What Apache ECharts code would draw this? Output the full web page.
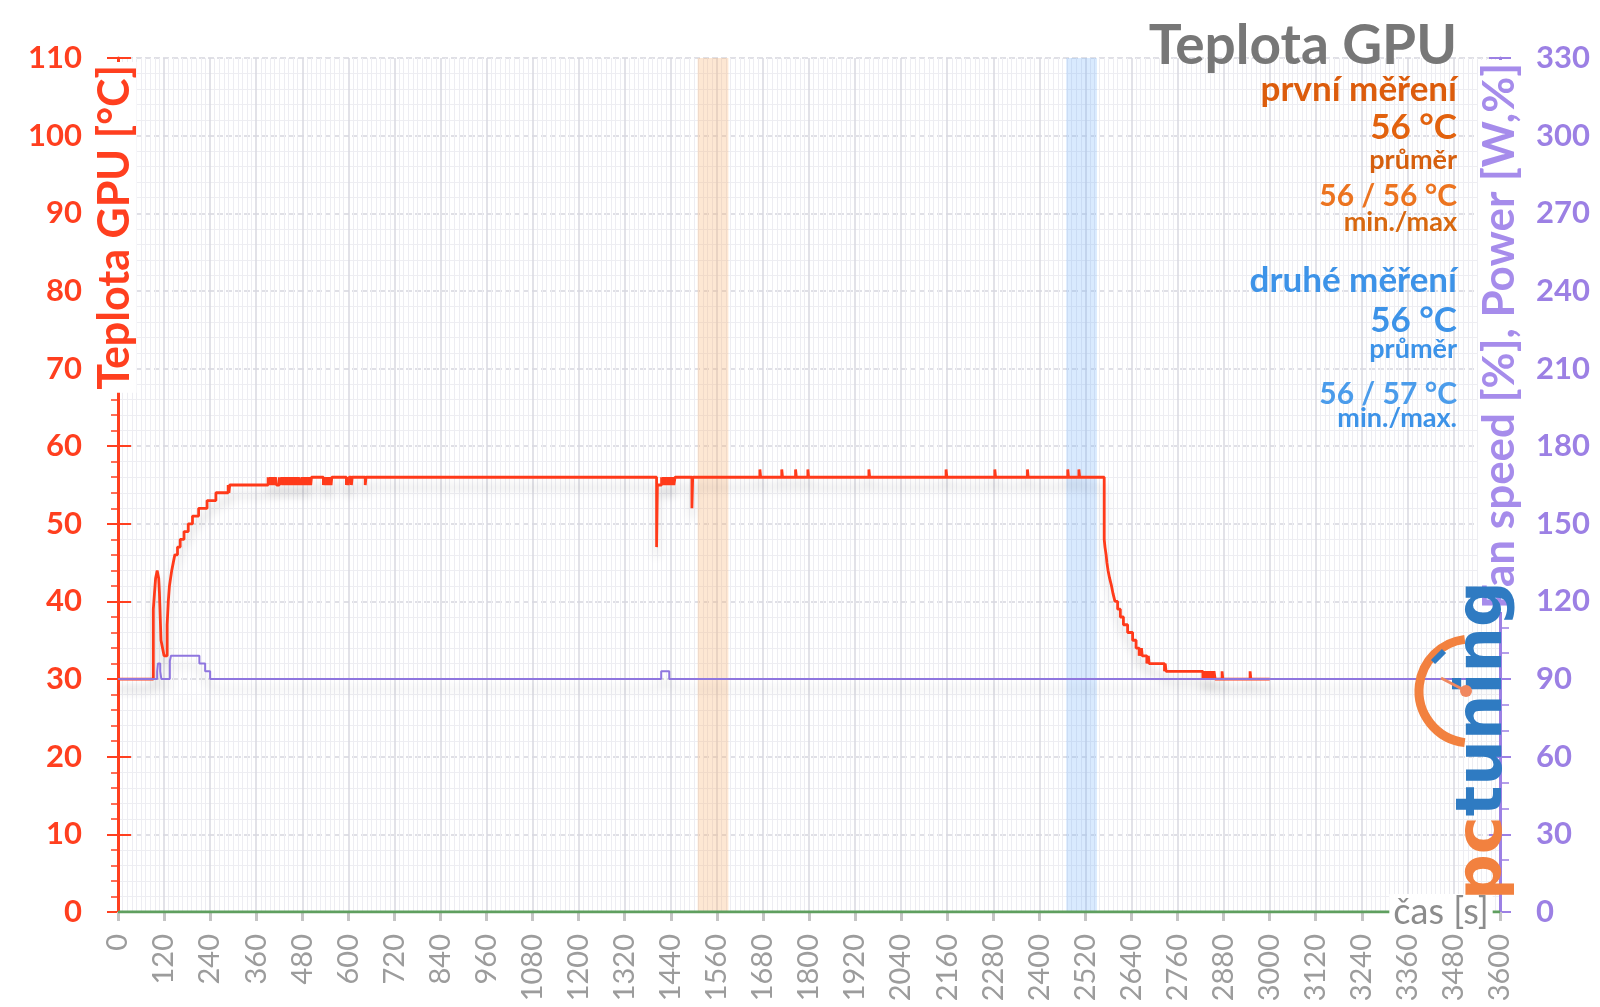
<!DOCTYPE html>
<html><head><meta charset="utf-8">
<script src="https://cdn.jsdelivr.net/npm/echarts/dist/echarts.min.js"></script>
<style>html,body{margin:0;padding:0;background:#fff}#c{width:1600px;height:1007px}</style>
</head><body><div id="c"></div>
<script>
// ---- data ----
const xMin = 0, xMax = 3600, xStep = 120;
const leftMax = 110, leftStep = 10;
const rightMax = 330, rightStep = 30;

// GPU temperature [°C] (step values: value holds from time until next time)
const tempTime = [0,92,95,98,102,106,108,110,112,116,120,128,131,134,137,140,144,148,155,162,172,183,194,210,232,255,287,289,291,
  391,393,397,399,404,406,410,413,420,422,427,430,432,436,438,441,443,447,449,452,454,457,459,462,465,468,470,474,479,481,483,487,489,492,494,497,499,502,504,
  535,537,539,541,543,545,547,549,551,553,555,557,595,597,600,602,608,610,644,646,
  1403,1405,1416,1418,1421,1424,1427,1430,1433,1436,1439,1442,1445,1448,1451,1495,1497,
  1672,1674,1729,1731,1765,1767,1797,1799,1956,1958,2157,2159,2284,2286,2369,2371,2474,2476,2503,2505,
  2569,2571,2574,2576,2579,2583,2588,2592,2597,2604,2611,2619,2630,2643,2652,2660,2662,2664,2666,2668,2680,2684,2686,2690,2726,2728,2730,
  2826,2829,2832,2835,2838,2841,2845,2848,2852,2855,2858,2876,2878,2949,2951,3000];
const tempValue = [30,39,41,43,44,43,41,38,35,34,33,37,40,42,43,44,45,46,47,48,49,50,51,52,53,54,55,54,55,
  56,55,56,55,56,55,56,55,56,55,56,55,56,55,56,55,56,55,56,55,56,55,56,55,56,55,56,55,56,55,56,55,56,55,56,55,56,55,56,
  55,56,55,56,55,56,55,56,55,56,55,56,55,56,55,56,55,56,55,56,
  47,55,56,55,56,55,56,55,56,55,56,55,56,55,56,52,56,
  57,56,57,56,57,56,57,56,57,56,57,56,57,56,57,56,57,56,57,56,
  48,47,46,45,44,43,42,41,40,39,38,37,36,35,34,33,34,33,34,33,32,33,32,32,31,32,31,
  30,31,30,31,30,31,30,31,30,31,30,31,30,31,30,30];

// Fan speed [%] (right axis)
const fanTime = [0,102,104,110,113,135,138,212,227,240,1415,1436,3600];
const fanValue = [90,93,96,93,90,97,99,96,93,90,93,90,90];

// Power (flat at zero)
const powerTime = [0, 3600];
const powerValue = [0, 0];

// highlighted intervals
const bandFirst = [1510, 1590];
const bandSecond = [2470, 2550];

const titleText = 'Teplota GPU';
const firstLabel = ['první měření', '56 °C', 'průměr', '56 / 56 °C', 'min./max'];
const secondLabel = ['druhé měření', '56 °C', 'průměr', '56 / 57 °C', 'min./max.'];

// ---- chart ----
const zip = (a, b) => a.map((t, i) => [t, b[i]]);
const FF = "Lato, 'Open Sans', sans-serif";
const RED = '#FF3F1F', PURPLE = '#9C80E4', ORANGE = '#E2620E', BLUE = '#3D93E8';

const chart = echarts.init(document.getElementById('c'), null, {renderer: 'canvas'});

function txt(x, y, text, size, color, weight, extra) {
  return Object.assign({
    type: 'text', x: x, y: y, z: 100,
    style: {text: text, fill: color, font: (weight || 'bold') + ' ' + size + 'px ' + FF,
      align: 'right', verticalAlign: 'middle', textAlign: 'right', textVerticalAlign: 'middle'}
  }, extra || {});
}

const option = {
  backgroundColor: '#fff',
  animation: false,
  grid: {left: 118, right: 100, top: 58, bottom: 95, containLabel: false, outerBoundsMode: 'none'},
  xAxis: {
    type: 'value', min: xMin, max: xMax, interval: xStep,
    axisLine: {show: false},
    axisTick: {show: true, length: 9, lineStyle: {color: '#c4c4c4', width: 3}},
    axisLabel: {rotate: 90, margin: 22, fontSize: 29, color: '#9c9c9c', fontFamily: FF,
      showMinLabel: true, showMaxLabel: true, formatter: v => String(v)},
    splitLine: {show: true, lineStyle: {color: '#d9d9e1', width: 1.5}},
    minorTick: {show: false, splitNumber: 10},
    minorSplitLine: {show: true, lineStyle: {color: '#ededf2', width: 1}}
  },
  yAxis: [
    {
      type: 'value', position: 'left', min: 0, max: leftMax, interval: leftStep,
      axisLine: {show: true, lineStyle: {color: RED, width: 3}},
      axisTick: {show: true, length: 11, lineStyle: {color: RED, width: 2}},
      minorTick: {show: true, splitNumber: 5, length: 7, lineStyle: {color: RED, width: 1.5}},
      axisLabel: {margin: 36, fontSize: 31, fontWeight: 'bold', color: RED, fontFamily: FF},
      splitLine: {show: true, lineStyle: {color: '#d6d6de', width: 1.5, type: 'dashed'}},
      minorSplitLine: {show: true, lineStyle: {color: '#eeeef2', width: 1}}
    },
    {
      type: 'value', position: 'right', min: 0, max: rightMax, interval: rightStep,
      axisLine: {show: true, lineStyle: {color: PURPLE, width: 3}},
      axisTick: {show: true, length: 11, lineStyle: {color: PURPLE, width: 2}},
      minorTick: {show: true, splitNumber: 3, length: 9, lineStyle: {color: PURPLE, width: 1.5}},
      axisLabel: {margin: 36, fontSize: 31, fontWeight: 'bold', color: PURPLE, fontFamily: FF},
      splitLine: {show: false}
    },
    {
      type: 'value', position: 'left', min: 0, max: leftMax, interval: leftStep,
      axisLine: {show: false}, axisLabel: {show: false}, splitLine: {show: false},
      axisTick: {show: true, inside: true, length: 13, lineStyle: {color: RED, width: 2}}
    },
    {
      type: 'value', position: 'right', min: 0, max: rightMax, interval: rightStep,
      axisLine: {show: false}, axisLabel: {show: false}, splitLine: {show: false},
      axisTick: {show: true, inside: true, length: 11, lineStyle: {color: PURPLE, width: 2}}
    }
  ],
  series: [
    {
      name: 'power', type: 'line', yAxisIndex: 0, z: 1, symbol: 'none',
      data: zip(powerTime, powerValue),
      lineStyle: {color: '#5f9f5f', width: 3},
      markArea: {
        silent: true,
        data: [
          [{xAxis: bandFirst[0], itemStyle: {color: 'rgba(250,175,110,0.3)'}}, {xAxis: bandFirst[1]}],
          [{xAxis: bandSecond[0], itemStyle: {color: 'rgba(110,175,250,0.26)'}}, {xAxis: bandSecond[1]}]
        ]
      }
    },
    {
      name: 'temp', type: 'line', yAxisIndex: 0, z: 3, symbol: 'none', step: 'end',
      data: zip(tempTime, tempValue),
      lineStyle: {color: '#FF3A1A', width: 2.8, shadowColor: 'rgba(0,0,0,0.16)', shadowBlur: 10, shadowOffsetY: 10}
    },
    {
      name: 'fan', type: 'line', yAxisIndex: 1, z: 4, symbol: 'none', step: 'end',
      data: zip(fanTime, fanValue),
      lineStyle: {color: '#8F76DF', width: 2, shadowColor: 'rgba(0,0,0,0.14)', shadowBlur: 10, shadowOffsetY: 10}
    }
  ],
  graphic: [
    // axis names
    {type: 'text', x: 115, y: 62, rotation: Math.PI / 2, z: 100,
      style: {text: 'Teplota GPU [°C]', fill: RED, font: 'bold 43px ' + FF, align: 'right', verticalAlign: 'middle',
        textAlign: 'right', textVerticalAlign: 'middle', backgroundColor: '#fff', padding: [0, 3]}},
    {type: 'text', x: 1500, y: 60, rotation: Math.PI / 2, z: 100,
      style: {text: 'Fan speed [%], Power [W,%]', fill: '#A68CEB', font: 'bold 44px ' + FF, align: 'right', verticalAlign: 'middle',
        textAlign: 'right', textVerticalAlign: 'middle', backgroundColor: '#fff', padding: [0, 3]}},
    {type: 'text', x: 1441, y: 912, z: 100,
      style: {text: 'čas [s]', fill: '#8c8c8c', font: '36px ' + FF, align: 'center', verticalAlign: 'middle',
        textAlign: 'center', textVerticalAlign: 'middle', backgroundColor: '#fff', padding: [0, 4]}},
    // title and summary
    txt(1457, 46, titleText, 55, '#777777'),
    txt(1457, 90, firstLabel[0], 35, '#DC5C0C'),
    txt(1457, 128, firstLabel[1], 35, ORANGE),
    txt(1457, 160, firstLabel[2], 27, '#D6600F'),
    txt(1457, 196, firstLabel[3], 30, '#EC7420'),
    txt(1457, 222, firstLabel[4], 27, '#D8680F'),
    txt(1457, 281, secondLabel[0], 35, BLUE),
    txt(1457, 321, secondLabel[1], 35, BLUE),
    txt(1457, 349, secondLabel[2], 27, BLUE),
    txt(1457, 394, secondLabel[3], 30, '#4B9CEB'),
    txt(1457, 418, secondLabel[4], 27, BLUE),
    // logo
    {type: 'arc', z: 101, shape: {cx: 1471, cy: 691, r: 52, startAngle: Math.PI / 2 + 0.12, endAngle: Math.PI * 1.5 - 0.12, clockwise: true},
      style: {stroke: '#F2813F', lineWidth: 9, fill: null}},
    {type: 'line', z: 102, shape: {x1: 1433, y1: 662, x2: 1444, y2: 651}, style: {stroke: '#2F7BC2', lineWidth: 6}},
    {type: 'line', z: 102, shape: {x1: 1441, y1: 678, x2: 1464, y2: 690}, style: {stroke: '#F08860', lineWidth: 3}},
    {type: 'circle', z: 102, shape: {cx: 1466, cy: 691, r: 6}, style: {fill: '#F08860'}},
    {type: 'text', x: 1484, y: 900, rotation: Math.PI / 2, z: 101,
      style: {text: '{o|pc}{b|tuning}', font: '64px DejaVu Sans', align: 'left', verticalAlign: 'middle',
        textAlign: 'left', textVerticalAlign: 'middle',
        rich: {o: {fill: '#F2813F', fontSize: 64, fontWeight: 600, fontFamily: 'DejaVu Sans'},
               b: {fill: '#2F7BC2', fontSize: 64, fontWeight: 600, fontFamily: 'DejaVu Sans'}}}}
  ]
};
chart.setOption(option);
</script>
</body></html>
